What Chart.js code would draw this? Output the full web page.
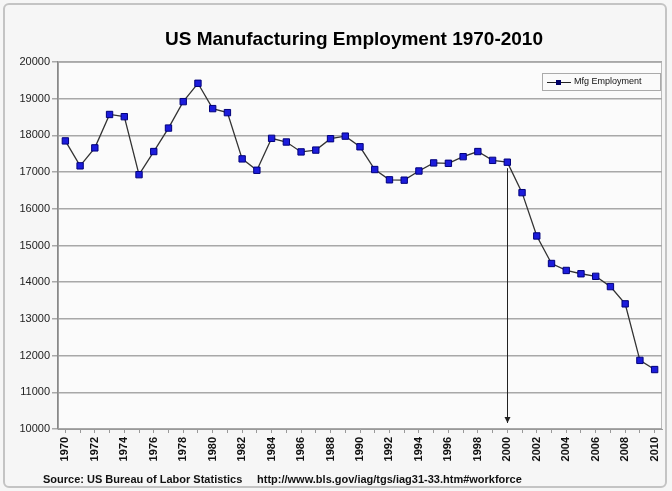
<!DOCTYPE html>
<html>
<head>
<meta charset="utf-8">
<script src="https://cdn.jsdelivr.net/npm/chart.js@4/dist/chart.umd.min.js"></script>
<style>
  html, body { margin: 0; padding: 0; background: #ffffff; }
  #wrap { width: 672px; height: 491px; position: relative; }
</style>
</head>
<body>
<div id="wrap"><canvas id="chart" width="672" height="491"></canvas></div>
<script>
// data (thousands of jobs)
const years = [];
for (let y = 1970; y <= 2010; y++) years.push(String(y));
const employment = [
    17850, 17170, 17660, 18570, 18510, 16930, 17560, 18200, 18920, 19420,
    18730, 18620, 17360, 17050, 17920, 17820, 17550, 17600, 17910, 17980,
    17690, 17070, 16790, 16780, 17030, 17250, 17240, 17420, 17560, 17320,
    17270, 16440, 15260, 14510, 14320, 14230, 14160, 13880, 13410, 11870, 11620
];
const yTicks = { min: 10000, max: 20000, step: 1000 };
const titleText = 'US Manufacturing Employment 1970-2010';
const seriesLabel = 'Mfg Employment';
const sourceText = 'Source: US Bureau of Labor Statistics';
const sourceUrl = 'http://www.bls.gov/iag/tgs/iag31-33.htm#workforce';
const arrowYear = '2000';

const font = '"Liberation Sans", Arial, sans-serif';

const decor = {
    id: 'decor',
    beforeDraw(chart) {
        const ctx = chart.ctx;
        const a = chart.chartArea;
        ctx.save();
        ctx.fillStyle = '#f6f6f6';
        ctx.fillRect(0, 0, 672, 491);
        ctx.strokeStyle = '#c4c4c4';
        ctx.lineWidth = 2;
        ctx.beginPath();
        ctx.roundRect(4, 4, 662, 483, 5);
        ctx.stroke();
        ctx.fillStyle = '#fbfbfb';
        ctx.fillRect(a.left, a.top, a.right - a.left, a.bottom - a.top);
        ctx.strokeStyle = '#bbbbbb';
        ctx.lineWidth = 1;
        ctx.strokeRect(a.left + 0.5, a.top + 0.5, a.right - a.left - 1, a.bottom - a.top - 1);
        ctx.restore();
    },
    afterDatasetsDraw(chart) {
        const ctx = chart.ctx;
        const xs = chart.scales.x, ys = chart.scales.y;
        const i = years.indexOf(arrowYear);
        const x = Math.round(xs.getPixelForValue(i)) + 0.5;
        const y0 = ys.getPixelForValue(employment[i]) + 6;
        const y1 = chart.chartArea.bottom - 6;
        ctx.save();
        ctx.strokeStyle = '#222';
        ctx.fillStyle = '#222';
        ctx.lineWidth = 1;
        ctx.beginPath();
        ctx.moveTo(x, y0);
        ctx.lineTo(x, y1);
        ctx.stroke();
        ctx.beginPath();
        ctx.moveTo(x - 3, y1 - 6);
        ctx.lineTo(x + 3, y1 - 6);
        ctx.lineTo(x, y1);
        ctx.closePath();
        ctx.fill();
        ctx.restore();
    },
    afterDraw(chart) {
        const ctx = chart.ctx;
        ctx.save();
        // title
        ctx.fillStyle = '#000';
        ctx.font = 'bold 19px ' + font;
        ctx.textAlign = 'center';
        ctx.textBaseline = 'middle';
        ctx.fillText(titleText, 354, 40);
        // legend box
        ctx.fillStyle = '#fafafa';
        ctx.fillRect(542, 73, 118, 17);
        ctx.strokeStyle = '#aaaaaa';
        ctx.lineWidth = 1;
        ctx.strokeRect(542.5, 73.5, 118, 17);
        ctx.strokeStyle = '#222';
        ctx.beginPath();
        ctx.moveTo(547, 82.5);
        ctx.lineTo(571, 82.5);
        ctx.stroke();
        ctx.fillStyle = '#000066';
        ctx.fillRect(556, 80, 5, 5);
        ctx.fillStyle = '#111';
        ctx.font = '9px ' + font;
        ctx.textAlign = 'left';
        ctx.fillText(seriesLabel, 574, 82);
        // source line
        ctx.font = 'bold 11px ' + font;
        ctx.fillText(sourceText, 43, 480);
        ctx.fillText(sourceUrl, 257, 480);
        ctx.restore();
    }
};

const ctx = document.getElementById('chart').getContext('2d');
const myChart = new Chart(ctx, {
    type: 'line',
    data: {
        labels: years,
        datasets: [{
            label: seriesLabel,
            data: employment,
            borderColor: '#333333',
            borderWidth: 1.3,
            tension: 0,
            pointStyle: 'rect',
            pointRadius: 4.5,
            pointBackgroundColor: '#1c1cdc',
            pointBorderColor: '#00007a',
            pointBorderWidth: 1
        }]
    },
    options: {
        responsive: false,
        animation: false,
        events: [],
        layout: { padding: { top: 62, right: 10, bottom: 22, left: 0 } },
        plugins: {
            legend: { display: false },
            title: { display: false },
            tooltip: { enabled: false }
        },
        scales: {
            x: {
                offset: true,
                afterFit: s => { s.height = 40; },
                grid: { display: true, drawOnChartArea: false, drawTicks: true, tickLength: 4, color: '#999' },
                border: { color: '#999', width: 1 },
                ticks: {
                    autoSkip: false,
                    minRotation: 90,
                    maxRotation: 90,
                    padding: 4,
                    color: '#111',
                    font: { family: font, size: 11, weight: 'bold' },
                    callback: (v, i) => (i % 2 === 0 ? years[i] : '')
                }
            },
            y: {
                min: yTicks.min,
                max: yTicks.max,
                afterFit: s => { s.width = 58; },
                grid: { color: '#a8a8a8', lineWidth: 1.5, tickLength: 6 },
                border: { color: '#888', width: 1.5 },
                ticks: {
                    stepSize: yTicks.step,
                    padding: 2,
                    color: '#222',
                    font: { family: font, size: 11 },
                    callback: v => String(v)
                }
            }
        }
    },
    plugins: [decor]
});
</script>
</body>
</html>
